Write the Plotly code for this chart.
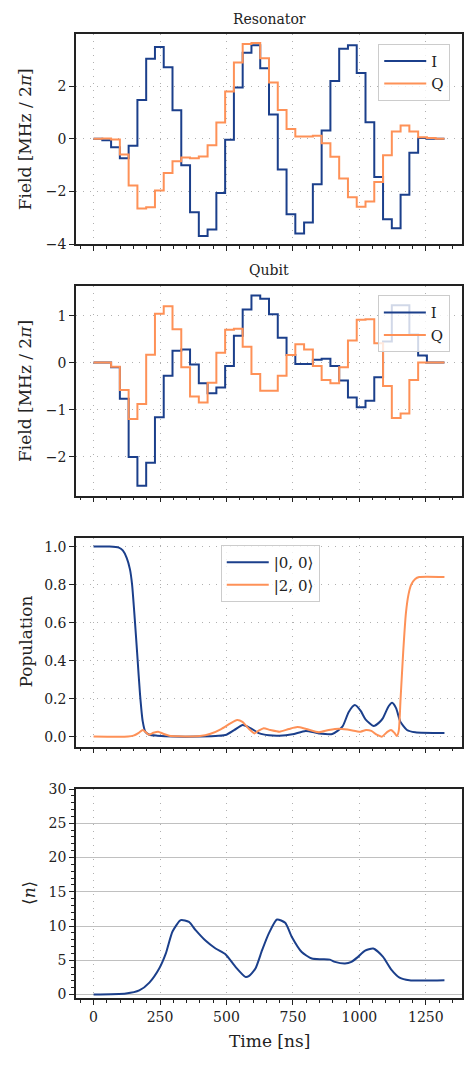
import plotly.graph_objects as go

# ---------------- data ----------------
SEG_NS = 33          # duration of one piecewise-constant pulse segment
N_SEG = 40
seg_edges = [SEG_NS * k for k in range(N_SEG + 1)]

res_I = [0.0, -0.05, -0.32, -0.74, -0.26, 1.47, 3.04, 3.49, 2.72, 1.08,
         -1.0, -2.79, -3.69, -3.44, -2.06, -0.04, 1.95, 3.27, 3.55, 2.68,
         0.92, -1.17, -2.86, -3.6, -3.18, -1.73, 0.32, 2.2, 3.42, 3.55,
         2.5, 0.63, -1.45, -3.05, -3.4, -2.12, -0.53, 0.03, 0.0, 0.0]
res_Q = [0.0, 0.01, -0.03, -0.6, -1.77, -2.65, -2.6, -1.96, -1.3, -0.85,
         -0.71, -0.74, -0.67, -0.24, 0.62, 1.8, 2.9, 3.6, 3.64, 3.06,
         2.14, 1.09, 0.37, 0.09, 0.09, 0.12, -0.17, -0.68, -1.51, -2.22,
         -2.58, -2.38, -1.64, -0.62, 0.28, 0.51, 0.28, 0.06, 0.03, 0.0]
qub_I = [0.0, 0.0, -0.1, -0.77, -2.01, -2.62, -2.13, -1.16, -0.28, 0.25,
         0.28, -0.04, -0.44, -0.65, -0.53, -0.07, 0.57, 1.13, 1.43, 1.36,
         1.03, 0.53, 0.16, -0.03, -0.03, 0.06, 0.08, -0.07, -0.38, -0.74,
         -0.95, -0.81, -0.31, 0.45, 1.22, 1.22, 0.6, 0.15, 0.0, 0.0]
qub_Q = [0.0, 0.0, -0.09, -0.58, -1.2, -0.88, 0.17, 1.04, 1.2, 0.71,
         -0.1, -0.72, -0.85, -0.43, 0.21, 0.7, 0.72, 0.34, -0.24, -0.6,
         -0.6, -0.28, 0.16, 0.39, 0.28, -0.07, -0.37, -0.44, -0.1, 0.47,
         0.91, 0.92, 0.41, -0.5, -1.18, -1.08, -0.37, 0.0, 0.0, 0.0]

pop00_t = [0, 60, 95, 110, 125, 137, 145, 155, 165, 175, 185, 195, 210, 240,
           300, 400, 470, 500, 530, 561, 590, 624, 660, 699, 748, 798, 848,
           898, 936, 960, 983, 1005, 1023, 1054, 1075, 1088, 1110, 1123, 1138,
           1154, 1179, 1210, 1320]
pop00 = [1.0, 1.0, 0.995, 0.98, 0.94, 0.88, 0.8, 0.62, 0.42, 0.22, 0.08, 0.025,
         0.01, 0.005, 0.0, 0.0, 0.004, 0.01, 0.035, 0.061, 0.045, 0.017, 0.007,
         0.005, 0.012, 0.03, 0.017, 0.014, 0.052, 0.13, 0.166, 0.135, 0.091,
         0.056, 0.075, 0.096, 0.16, 0.178, 0.15, 0.079, 0.035, 0.023, 0.019]

pop20_t = [0, 130, 150, 170, 185, 198, 208, 225, 243, 262, 285, 320, 400, 440,
           480, 515, 540, 560, 585, 605, 620, 640, 665, 700, 735, 767, 800, 848,
           885, 923, 960, 1004, 1025, 1045, 1065, 1085, 1105, 1119, 1132, 1141,
           1148, 1155, 1165, 1175, 1185, 1195, 1210, 1225, 1320]
pop20 = [0.0, 0.0, 0.005, 0.02, 0.035, 0.022, 0.01, 0.02, 0.026, 0.015, 0.005,
         0.002, 0.003, 0.015, 0.04, 0.07, 0.087, 0.078, 0.04, 0.017, 0.03, 0.044,
         0.035, 0.026, 0.04, 0.05, 0.04, 0.023, 0.035, 0.042, 0.036, 0.026,
         0.035, 0.03, 0.01, 0.0, 0.025, 0.035, 0.02, 0.003, 0.03, 0.2, 0.45,
         0.65, 0.75, 0.8, 0.83, 0.84, 0.84]

n_t = [0, 122, 172, 210, 247, 272, 297, 328, 359, 384, 422, 459, 497, 534,
       571, 584, 609, 634, 659, 690, 721, 746, 783, 821, 858, 889, 908, 946,
       970, 995, 1020, 1052, 1089, 1120, 1151, 1188, 1320]
n_mean = [0.0, 0.15, 0.6, 1.75, 3.8, 6.0, 9.2, 10.86, 10.6, 9.4, 7.84, 6.72,
          5.85, 4.04, 2.58, 2.68, 3.8, 6.48, 8.9, 10.96, 10.47, 8.4, 6.2, 5.26,
          5.16, 5.1, 4.77, 4.53, 4.77, 5.5, 6.38, 6.72, 5.5, 3.65, 2.48, 2.1, 2.1]

x_ticks = [0, 250, 500, 750, 1000, 1250]
res_yticks = [-4, -2, 0, 2]
qub_yticks = [-2, -1, 0, 1]
pop_yticks = [0.0, 0.2, 0.4, 0.6, 0.8, 1.0]
n_yticks = [0, 5, 10, 15, 20, 25, 30]

panel_titles = ["Resonator", "Qubit"]
BLUE = "#1b3f8b"
ORANGE = "#fe9157"
FONT = "DejaVu Serif"
INK = "#222222"
GRID = "#b0b0b0"

# ---------------- figure ----------------
fig = go.Figure()

def step(vals):
    return vals + [vals[-1]]

fig.add_trace(go.Scatter(x=seg_edges, y=step(res_I), name="I", line_shape="hv",
                         line=dict(color=BLUE, width=2), xaxis="x", yaxis="y", legend="legend"))
fig.add_trace(go.Scatter(x=seg_edges, y=step(res_Q), name="Q", line_shape="hv",
                         line=dict(color=ORANGE, width=2), xaxis="x", yaxis="y", legend="legend"))
fig.add_trace(go.Scatter(x=seg_edges, y=step(qub_I), name="I", line_shape="hv",
                         line=dict(color=BLUE, width=2), xaxis="x2", yaxis="y2", legend="legend2"))
fig.add_trace(go.Scatter(x=seg_edges, y=step(qub_Q), name="Q", line_shape="hv",
                         line=dict(color=ORANGE, width=2), xaxis="x2", yaxis="y2", legend="legend2"))
fig.add_trace(go.Scatter(x=pop00_t, y=pop00, name="|0, 0⟩", line_shape="spline",
                         line=dict(color=BLUE, width=2, smoothing=0.6), xaxis="x3", yaxis="y3", legend="legend3"))
fig.add_trace(go.Scatter(x=pop20_t, y=pop20, name="|2, 0⟩", line_shape="spline",
                         line=dict(color=ORANGE, width=2, smoothing=0.6), xaxis="x3", yaxis="y3", legend="legend3"))
fig.add_trace(go.Scatter(x=n_t, y=n_mean, name="n", line_shape="spline", showlegend=False,
                         line=dict(color=BLUE, width=2, smoothing=0.6), xaxis="x4", yaxis="y4"))

domains = [[0.782, 1.0], [0.5211, 0.7386], [0.2607, 0.4775], [0.0, 0.2168]]
yranges = [[-4.0, 3.98], [-2.83, 1.63], [-0.053, 1.047], [-0.5, 30]]
yticks = [res_yticks, qub_yticks, pop_yticks, n_yticks]
yfmt = ["", "", ".1f", ""]
DOT = "1px,6px"

axis_common = dict(showline=True, linecolor=INK, linewidth=1.5, mirror=True,
                   ticks="outside", ticklen=5, tickwidth=1.2, tickcolor=INK,
                   tickfont=dict(family=FONT, size=14, color=INK), automargin=False,
                   zeroline=False, gridcolor=GRID, gridwidth=1.2)

for i in range(4):
    sx = "" if i == 0 else str(i + 1)
    xa = dict(axis_common, domain=[0, 1], anchor="y" + sx, range=[-66, 1386],
              tickvals=x_ticks, showticklabels=(i == 3), showgrid=True, griddash=DOT,
              minor=dict(dtick=50, tick0=0, ticks="outside", ticklen=3, tickwidth=1, tickcolor=INK))
    if i < 3:
        xa["matches"] = "x4"
    ya = dict(axis_common, domain=domains[i], anchor="x" + sx, range=yranges[i],
              tickvals=yticks[i], tickformat=yfmt[i], showgrid=True,
              griddash=("solid" if i == 3 else DOT))
    if i == 3:
        ya["minor"] = dict(dtick=1, tick0=0, ticks="outside", ticklen=3, tickwidth=1, tickcolor=INK)
        ya["gridcolor"] = "#c0c0c0"
    fig.layout["xaxis" + sx] = xa
    fig.layout["yaxis" + sx] = ya

leg_common = dict(bgcolor="rgba(255,255,255,0.8)", bordercolor="#cccccc", borderwidth=1,
                  font=dict(family=FONT, size=15, color=INK), xanchor="left", yanchor="top",
                  tracegroupgap=0, itemwidth=42)
fig.update_layout(
    legend=dict(leg_common, x=0.783, y=0.990),
    legend2=dict(leg_common, x=0.782, y=0.729),
    legend3=dict(leg_common, x=0.375, y=0.470),
)

# page body adds an 8 px offset; positions below are given in reference-page pixels
def py(p):
    return (998 - p) / 964

def px(p):
    return (p - 76) / 386

ann = []
ann.append(dict(text=panel_titles[0], x=0.5, y=py(19), xref="paper", yref="paper",
                showarrow=False, font=dict(family=FONT, size=14, color=INK), yanchor="middle"))
ann.append(dict(text=panel_titles[1], x=0.5, y=py(270), xref="paper", yref="paper",
                showarrow=False, font=dict(family=FONT, size=14, color=INK), yanchor="middle"))
ylabels = [("Field [MHz / 2<i>π</i>]", 25, 139.3), ("Field [MHz / 2<i>π</i>]", 25, 391),
           ("Population", 25.5, 642), ("⟨<i>n</i>⟩", 29, 893)]
for txt, xx, yy in ylabels:
    ann.append(dict(text=txt, x=px(xx), y=py(yy), xref="paper", yref="paper", textangle=-90,
                    showarrow=False, font=dict(family=FONT, size=17, color=INK),
                    xanchor="center", yanchor="middle"))
ann.append(dict(text="Time [ns]", x=0.5, y=py(1041), xref="paper", yref="paper",
                showarrow=False, font=dict(family=FONT, size=17, color=INK), yanchor="middle"))

fig.update_layout(width=468, height=1057, margin=dict(l=68, r=14, t=26, b=67, autoexpand=False),
                  paper_bgcolor="white", plot_bgcolor="white", annotations=ann,
                  font=dict(family=FONT, color=INK))

fig.write_html("out.html")
